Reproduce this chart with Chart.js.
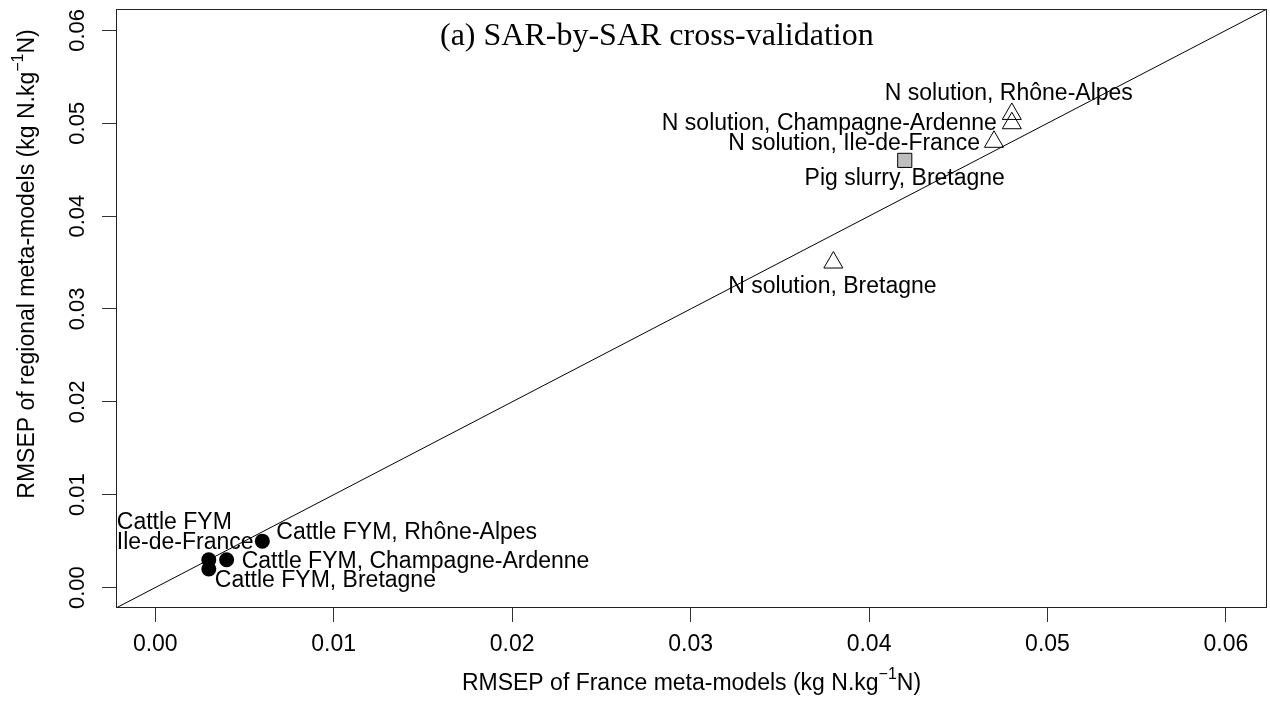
<!DOCTYPE html>
<html>
<head>
<meta charset="utf-8">
<title>SAR-by-SAR cross-validation</title>
<script src="https://cdn.jsdelivr.net/npm/chart.js@4.4.0/dist/chart.umd.min.js"></script>
<style>
  html, body { margin: 0; padding: 0; background: #fff; }
</style>
</head>
<body>
<canvas id="rmsepChart" width="1270" height="706"></canvas>
<script>
// RMSEP values (kg N / kg N): France meta-model on x, regional meta-model on y
const cattleX = [0.006, 0.004, 0.003, 0.003];
const cattleY = [0.005, 0.003, 0.003, 0.002];
const cattleNames = ['Cattle FYM, Rhône-Alpes', 'Cattle FYM, Champagne-Ardenne', 'Cattle FYM\nIle-de-France', 'Cattle FYM, Bretagne'];

const nSolX = [0.048, 0.048, 0.047, 0.038];
const nSolY = [0.051, 0.050, 0.048, 0.035];
const nSolNames = ['N solution, Rhône-Alpes', 'N solution, Champagne-Ardenne', 'N solution, Ile-de-France', 'N solution, Bretagne'];

const pigX = [0.042];
const pigY = [0.046];
const pigNames = ['Pig slurry, Bretagne'];

const tickValues = [0, 0.01, 0.02, 0.03, 0.04, 0.05, 0.06];
const axisMin = -0.0022;
const axisMax = 0.0623;

const plotTitle = '(a) SAR-by-SAR cross-validation';
const xTitle = ['RMSEP of France meta-models (kg N.kg', '\u22121', 'N)'];
const yTitle = ['RMSEP of regional meta-models (kg N.kg', '\u22121', 'N)'];

// where each label sits next to its point: [align, dx, dy]
const cattlePlace = [['left', 14, -8], ['left', 15, 2], ['left', -92, -37], ['left', 6, 12]];
const nSolPlace = [['center', -3, -20], ['right', -15, 0], ['right', -14, 2], ['center', -1, 24]];
const pigPlace = [['center', 0, 18]];

const SANS = '"Liberation Sans", Arial, sans-serif';
const SERIF = '"Liberation Serif", "Times New Roman", serif';

function toPoints(xs, ys) {
    return xs.map(function(x, i) { return {x: x, y: ys[i]}; });
}

// text with a superscript in the middle, centred on (cx, cy)
function drawSupText(ctx, parts, cx, cy, size) {
    const supSize = Math.round(size * 0.7);
    ctx.font = size + 'px ' + SANS;
    const w1 = ctx.measureText(parts[0]).width;
    const w3 = ctx.measureText(parts[2]).width;
    ctx.font = supSize + 'px ' + SANS;
    const w2 = ctx.measureText(parts[1]).width;
    let x = cx - (w1 + w2 + w3) / 2;
    ctx.textAlign = 'left';
    ctx.textBaseline = 'middle';
    ctx.font = size + 'px ' + SANS;
    ctx.fillText(parts[0], x, cy);
    ctx.font = supSize + 'px ' + SANS;
    ctx.fillText(parts[1], x + w1, cy - size * 0.42);
    ctx.font = size + 'px ' + SANS;
    ctx.fillText(parts[2], x + w1 + w2, cy);
}

const labelGroups = [
    {xs: cattleX, ys: cattleY, names: cattleNames, place: cattlePlace},
    {xs: nSolX, ys: nSolY, names: nSolNames, place: nSolPlace},
    {xs: pigX, ys: pigY, names: pigNames, place: pigPlace}
];

const pointLabels = {
    id: 'pointLabels',
    beforeDatasetsDraw(chart) {
        const ctx = chart.ctx;
        const sx = chart.scales.x, sy = chart.scales.y;
        ctx.save();
        ctx.fillStyle = '#000';
        ctx.font = '23px ' + SANS;
        ctx.textBaseline = 'middle';
        labelGroups.forEach(function(g) {
            g.xs.forEach(function(xv, i) {
                const px = sx.getPixelForValue(xv);
                const py = sy.getPixelForValue(g.ys[i]);
                const p = g.place[i];
                ctx.textAlign = p[0];
                g.names[i].split('\n').forEach(function(line, k) {
                    ctx.fillText(line, px + p[1], py + p[2] + k * 20);
                });
            });
        });
        ctx.restore();
    }
};

const frameAndAxes = {
    id: 'frameAndAxes',
    afterDraw(chart) {
        const ctx = chart.ctx;
        const a = chart.chartArea;
        const sx = chart.scales.x, sy = chart.scales.y;
        ctx.save();
        ctx.strokeStyle = '#222';
        ctx.lineWidth = 1;
        ctx.strokeRect(a.left + 0.5, a.top + 0.5, a.right - a.left - 1, a.bottom - a.top - 1);

        ctx.fillStyle = '#000';
        ctx.font = '23px ' + SANS;
        ctx.textAlign = 'center';
        ctx.textBaseline = 'middle';
        tickValues.forEach(function(v) {
            ctx.fillText(v.toFixed(2), sx.getPixelForValue(v), 645);
        });
        tickValues.forEach(function(v) {
            ctx.save();
            ctx.translate(78, sy.getPixelForValue(v));
            ctx.rotate(-Math.PI / 2);
            ctx.font = '22px ' + SANS;
            ctx.fillText(v.toFixed(2), 0, 0);
            ctx.restore();
        });

        drawSupText(ctx, xTitle, (a.left + a.right) / 2, 684, 23);
        ctx.save();
        ctx.translate(28, 264);
        ctx.rotate(-Math.PI / 2);
        drawSupText(ctx, yTitle, 0, 0, 23);
        ctx.restore();

        ctx.font = '32px ' + SERIF;
        ctx.textAlign = 'left';
        ctx.textBaseline = 'alphabetic';
        ctx.fillText(plotTitle, 440, 45);
        ctx.restore();
    }
};

function axisOptions(fit) {
    return {
        type: 'linear',
        min: axisMin,
        max: axisMax,
        afterBuildTicks: function(scale) {
            scale.ticks = tickValues.map(function(v) { return {value: v}; });
        },
        afterFit: function(scale) {
            fit(scale);
            scale.paddingLeft = 0;
            scale.paddingRight = 0;
            scale.paddingTop = 0;
            scale.paddingBottom = 0;
        },
        ticks: {display: false},
        grid: {drawOnChartArea: false, drawTicks: true, tickLength: 14, color: '#333', lineWidth: 1},
        border: {display: false}
    };
}

const ctx = document.getElementById('rmsepChart').getContext('2d');
new Chart(ctx, {
    type: 'scatter',
    data: {
        datasets: [{
            label: '1:1',
            type: 'line',
            data: [{x: axisMin, y: axisMin}, {x: axisMax, y: axisMax}],
            borderColor: '#000',
            borderWidth: 1,
            pointRadius: 0,
            fill: false,
            order: 2
        }, {
            label: 'Cattle FYM',
            data: toPoints(cattleX, cattleY),
            pointStyle: 'circle',
            pointRadius: 7.5,
            backgroundColor: '#000',
            borderColor: '#000',
            borderWidth: 0,
            order: 1
        }, {
            label: 'N solution',
            data: toPoints(nSolX, nSolY),
            pointStyle: 'triangle',
            pointRadius: 11,
            backgroundColor: 'rgba(0,0,0,0)',
            borderColor: '#000',
            borderWidth: 1,
            order: 1
        }, {
            label: 'Pig slurry',
            data: toPoints(pigX, pigY),
            pointStyle: 'rect',
            pointRadius: 10,
            backgroundColor: '#bebebe',
            borderColor: '#000',
            borderWidth: 1,
            order: 1
        }]
    },
    options: {
        responsive: false,
        animation: false,
        devicePixelRatio: 1,
        layout: {autoPadding: false, padding: {top: 9, right: 3, left: 0, bottom: 0}},
        plugins: {
            legend: {display: false},
            tooltip: {enabled: false}
        },
        scales: {
            x: axisOptions(function(scale) { scale.height = 98; }),
            y: axisOptions(function(scale) { scale.width = 116; })
        }
    },
    plugins: [pointLabels, frameAndAxes]
});
</script>
</body>
</html>
